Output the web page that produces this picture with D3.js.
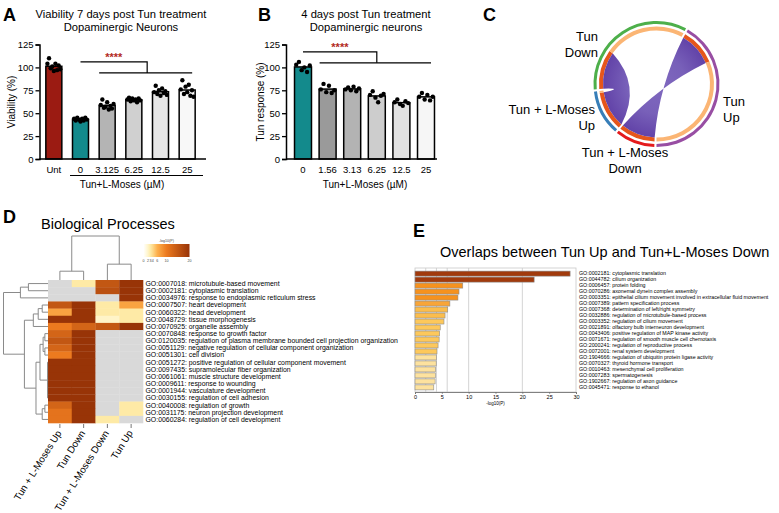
<!DOCTYPE html>
<html>
<head>
<meta charset="utf-8">
<script src="https://cdn.jsdelivr.net/npm/d3@7"></script>
<style>
  body { margin: 0; background: #fff; }
  svg { display: block; font-family: "Liberation Sans", Arial, Helvetica, sans-serif; }
</style>
</head>
<body>
<svg id="fig" width="779" height="513"></svg>
<script>
// ---- panel A: viability 7 days
var vCats = ["Unt", "0", "3.125", "6.25", "12.5", "25"];
var vColors = ["#9b1b12", "#138a8c", "#b4b4b4", "#d0d0d0", "#e6e6e6", "#f8f8f8"];
var vDots = [
  [104, 110, 99, 101, 96, 104, 97, 102, 98],
  [44, 42, 45, 43, 41, 44, 42, 45, 43],
  [59, 65, 56, 57, 62, 54, 58, 55, 60],
  [65, 67, 63, 66, 64, 65, 62, 66, 64],
  [73, 80, 71, 75, 69, 77, 72, 74, 70],
  [76, 86, 71, 79, 73, 81, 69, 75, 68]
];
// ---- panel B: Tun response 4 days
var tCats = ["0", "1.56", "3.13", "6.25", "12.5", "25"];
var tColors = ["#138a8c", "#9a9a9a", "#b3b3b3", "#cdcdcd", "#e2e2e2", "#f6f6f6"];
var tDots = [
  [103, 106, 97, 100, 95, 102],
  [76, 82, 73, 80, 72, 75],
  [76, 78, 75, 79, 74, 77],
  [70, 74, 67, 62, 69, 71],
  [62, 65, 60, 58, 63, 61],
  [68, 72, 65, 70, 64, 68]
];
var yTicks = [0, 25, 50, 75, 100, 125];

// ---- panel C: gene list overlaps
var setNames = ["Tun Up", "Tun + L-Moses Down", "Tun + L-Moses Up", "Tun Down"];
var setSizes = [150, 37, 42, 123];
var setShared = [37, 37, 40, 40];
var setColors = ["#984ea3", "#e41a1c", "#377eb8", "#4daf4a"];
var setLinks = [
  { source: 0, target: 1, twist: true },
  { source: 3, target: 2, twist: false }
];

// ---- panel D: heatmap of biological processes
var goTerms = [
  "GO:0007018: microtubule-based movement",
  "GO:0002181: cytoplasmic translation",
  "GO:0034976: response to endoplasmic reticulum stress",
  "GO:0007507: heart development",
  "GO:0060322: head development",
  "GO:0048729: tissue morphogenesis",
  "GO:0070925: organelle assembly",
  "GO:0070848: response to growth factor",
  "GO:0120035: regulation of plasma membrane bounded cell projection organization",
  "GO:0051129: negative regulation of cellular component organization",
  "GO:0051301: cell division",
  "GO:0051272: positive regulation of cellular component movement",
  "GO:0097435: supramolecular fiber organization",
  "GO:0061061: muscle structure development",
  "GO:0009611: response to wounding",
  "GO:0001944: vasculature development",
  "GO:0030155: regulation of cell adhesion",
  "GO:0040008: regulation of growth",
  "GO:0031175: neuron projection development",
  "GO:0060284: regulation of cell development"
];
var hmCols = ["Tun + L-Moses Up", "Tun Down", "Tun + L-Moses Down", "Tun Up"];
var hmVals = [
  [null, 3, 15, 20],
  [null, null, 16, 20],
  [null, null, null, 20],
  [15, 20, 3, 7],
  [7, 20, 3, 3],
  [20, 20, 2, 3],
  [10, 13, 15, 20],
  [13, 20, null, null],
  [15, 20, null, null],
  [13, 20, null, null],
  [10, 20, null, null],
  [20, 20, null, null],
  [20, 20, null, null],
  [20, 20, null, null],
  [20, 20, null, null],
  [20, 20, null, null],
  [20, 20, null, null],
  [13, 20, null, 3],
  [11, 20, null, 3],
  [11, 20, 3, null]
];
var legendTicks = [0, 2, 3, 4, 6, 10, 20];
var heatColors = ["#ffffff", "#fff4c8", "#feeaa6", "#fed98a", "#fdb04c", "#ec7a1f", "#983407"];
// dendrogram distances (h) for rows and columns
var rowTree = { h: 1.0, children: [
  { h: 0.62, children: [{ h: 0.44, children: [{ r: 0 }, { r: 1 }] }, { r: 2 }] },
  { h: 0.53, children: [
    { h: 0.33, children: [{ h: 0.22, children: [{ h: 0.13, children: [{ r: 3 }, { r: 4 }] }, { r: 5 }] }, { r: 6 }] },
    { h: 0.27, children: [
      { h: 0.18, children: [
        { h: 0.11, children: [{ h: 0.07, children: [{ r: 7 }, { r: 8 }] }, { h: 0.07, children: [{ r: 9 }, { r: 10 }] }] },
        { h: 0.01, children: [{ r: 11 }, { r: 12 }, { r: 13 }, { r: 14 }, { r: 15 }, { r: 16 }] }
      ] },
      { h: 0.13, children: [{ h: 0.07, children: [{ r: 17 }, { r: 18 }] }, { r: 19 }] }
    ] }
  ] }
] };
var colTree = { h: 1.0, children: [
  { h: 0.2, children: [{ r: 0 }, { r: 1 }] },
  { h: 0.36, children: [{ r: 2 }, { r: 3 }] }
] };

// ---- panel E: enrichment of overlap
var enrichTerms = [
  "GO:0002181: cytoplasmic translation",
  "GO:0044782: cilium organization",
  "GO:0006457: protein folding",
  "GO:0070286: axonemal dynein complex assembly",
  "GO:0003351: epithelial cilium movement involved in extracellular fluid movement",
  "GO:0007389: pattern specification process",
  "GO:0007368: determination of left/right symmetry",
  "GO:0032886: regulation of microtubule-based process",
  "GO:0003352: regulation of cilium movement",
  "GO:0021891: olfactory bulb interneuron development",
  "GO:0043406: positive regulation of MAP kinase activity",
  "GO:0071671: regulation of smooth muscle cell chemotaxis",
  "GO:2000241: regulation of reproductive process",
  "GO:0072001: renal system development",
  "GO:1904666: regulation of ubiquitin protein ligase activity",
  "GO:0070327: thyroid hormone transport",
  "GO:0010463: mesenchymal cell proliferation",
  "GO:0007283: spermatogenesis",
  "GO:1902667: regulation of axon guidance",
  "GO:0045471: response to ethanol"
];
var enrichVals = [28.9, 22.2, 8.9, 8.2, 8.0, 6.5, 6.1, 5.6, 5.4, 4.7, 4.6, 4.5, 4.3, 4.1, 4.0, 3.95, 3.85, 3.8, 3.75, 3.5];
var enrichTicks = [0, 5, 10, 15, 20, 25, 30];
var enrichGrid = [2, 4, 6, 10, 20];

var svg = d3.select("#fig");
svg.append("rect").attr("width", 779).attr("height", 513).attr("fill", "#fff");
var defs = svg.append("defs");

function panelLetter(t, x, y) {
  svg.append("text").attr("x", x).attr("y", y).attr("font-size", 18).attr("font-weight", "bold").text(t);
}

// ---------- bar panels A and B
function drawBars(o) {
  var x = d3.scaleBand().domain(o.cats).range(o.xr).paddingInner(o.pad).paddingOuter(o.pad / 2);
  var y = d3.scaleLinear().domain([0, 125]).range([159, 44.5]);
  var g = svg.append("g");
  var bw = x.bandwidth();

  g.selectAll("rect.bar").data(o.cats).enter().append("rect")
    .attr("x", function (d) { return x(d); })
    .attr("y", function (d, i) { return y(d3.mean(o.dots[i])); })
    .attr("width", bw)
    .attr("height", function (d, i) { return y(0) - y(d3.mean(o.dots[i])); })
    .attr("fill", function (d, i) { return o.colors[i]; })
    .attr("stroke", "#000").attr("stroke-width", 1.5);

  o.dots.forEach(function (vals, i) {
    var n = vals.length;
    g.selectAll(null).data(vals).enter().append("circle")
      .attr("cx", function (v, j) { return x(o.cats[i]) + bw / 2 + (j / (n - 1) - 0.5) * bw * 0.8; })
      .attr("cy", function (v) { return y(v); })
      .attr("r", 2.2).attr("fill", "#000");
  });

  var ax = g.append("g").attr("transform", "translate(" + o.axX + ",0)")
    .call(d3.axisLeft(y).tickValues(yTicks).tickSize(4).tickPadding(2));
  ax.select(".domain").attr("stroke-width", 1.5);
  ax.selectAll(".tick line").attr("stroke-width", 1.3);
  ax.selectAll("text").attr("font-size", 9.5).attr("font-family", "inherit").attr("fill", "#000");

  // baseline
  g.append("line").attr("x1", o.axX).attr("x2", o.xEnd).attr("y1", y(0)).attr("y2", y(0))
    .attr("stroke", "#000").attr("stroke-width", 1.5);

  g.selectAll("text.cat").data(o.cats).enter().append("text")
    .attr("x", function (d) { return x(d) + bw / 2; }).attr("y", 172.5)
    .attr("text-anchor", "middle").attr("font-size", 9.5).text(function (d) { return d; });

  g.append("text").attr("x", o.labX).attr("y", 187.5).attr("text-anchor", "middle")
    .attr("font-size", 10).text("Tun+L-Moses (\u00b5M)");

  g.append("text").attr("transform", "translate(" + o.yLabX + ",102) rotate(-90)")
    .attr("text-anchor", "middle").attr("font-size", 10).text(o.yLabel);

  o.title.forEach(function (t, k) {
    g.append("text").attr("x", o.titleX).attr("y", 18 + k * 12.5).attr("text-anchor", "middle")
      .attr("font-size", 11.2).text(t);
  });

  // significance bracket
  var c0 = x(o.cats[o.refIdx]) + bw / 2;
  var cA = x(o.cats[o.refIdx + 1]) + bw / 2, cB = x(o.cats[o.cats.length - 1]) + bw / 2;
  var mid = (cA + cB) / 2;
  var yU = y(o.sigU), yL = y(o.sigL);
  g.append("path").attr("d", "M" + c0 + "," + yU + "H" + mid + "V" + yL)
    .attr("fill", "none").attr("stroke", "#000").attr("stroke-width", 1.2);
  g.append("line").attr("x1", cA - 8).attr("x2", cB + 5).attr("y1", yL).attr("y2", yL)
    .attr("stroke", "#000").attr("stroke-width", 1.2);
  g.append("text").attr("x", (c0 + mid) / 2).attr("y", yU - 0.5).attr("text-anchor", "middle")
    .attr("font-size", 11).attr("font-weight", "bold").attr("fill", "#b22a1e").text("****");

  if (o.underline) {
    g.append("line").attr("x1", x(o.cats[1]) - 2.5).attr("x2", o.xEnd - 3).attr("y1", 175.5).attr("y2", 175.5)
      .attr("stroke", "#000").attr("stroke-width", 1);
  }
}

panelLetter("A", 3, 21);
drawBars({
  cats: vCats, colors: vColors, dots: vDots, xr: [40.5, 200.5], pad: 0.4, axX: 39.5, xEnd: 206,
  labX: 122, yLabX: 15, yLabel: "Viability (%)", titleX: 121,
  title: ["Viability 7 days post Tun treatment", "Dopaminergic Neurons"],
  refIdx: 1, sigU: 106, sigL: 94, underline: true
});

panelLetter("B", 258, 21);
drawBars({
  cats: tCats, colors: tColors, dots: tDots, xr: [290.7, 438.3], pad: 0.31, axX: 286, xEnd: 437,
  labX: 365, yLabX: 264, yLabel: "Tun response (%)", titleX: 366,
  title: ["4 days post Tun treatment", "Dopaminergic neurons"],
  refIdx: 0, sigU: 117, sigL: 105, underline: false
});

// ---------- panel C chord / circos
panelLetter("C", 483, 21);
(function () {
  var cx = 656.5, cy = 84;
  var gapDeg = 2, startDeg = 30;
  var total = d3.sum(setSizes);
  var ang = d3.scaleLinear().domain([0, total]).range([0, 360 - gapDeg * setSizes.length]);
  var rad = function (d) { return d * Math.PI / 180; };
  var g = svg.append("g").attr("transform", "translate(" + cx + "," + cy + ")");
  var groups = [];
  var cum = 0;
  setSizes.forEach(function (s, i) {
    var a0 = startDeg + ang(cum) + i * gapDeg;
    groups.push({ a0: a0, a1: a0 + ang(s), sh: a0 + ang(setShared[i]) });
    cum += s;
  });
  var outer = d3.arc().innerRadius(60).outerRadius(63);
  var inner = d3.arc().innerRadius(53.5).outerRadius(57.5);
  groups.forEach(function (gr, i) {
    g.append("path").attr("d", outer({ startAngle: rad(gr.a0), endAngle: rad(gr.a1) })).attr("fill", setColors[i]);
    g.append("path").attr("d", inner({ startAngle: rad(gr.a0), endAngle: rad(gr.sh) })).attr("fill", "#e5561b");
    if (gr.a1 > gr.sh + 0.01)
      g.append("path").attr("d", inner({ startAngle: rad(gr.sh), endAngle: rad(gr.a1) })).attr("fill", "#fbb574");
  });

  var rg = defs.append("radialGradient").attr("id", "ribgrad").attr("gradientUnits", "userSpaceOnUse")
    .attr("cx", 0).attr("cy", 0).attr("r", 53.5);
  rg.append("stop").attr("offset", "0%").attr("stop-color", "#8069bf");
  rg.append("stop").attr("offset", "55%").attr("stop-color", "#7860b9");
  rg.append("stop").attr("offset", "100%").attr("stop-color", "#6243a8");

  var r = 53.5;
  function pt(a, rr) { var t = rad(a) - Math.PI / 2; return [rr * Math.cos(t), rr * Math.sin(t)]; }
  function curveTo(p, a, b) {
    var diff = ((b - a) % 360 + 540) % 360 - 180;
    var c = pt(a + diff / 2, r * 0.62 * Math.pow(1 - Math.abs(diff) / 180, 1.3));
    var e = pt(b, r);
    p.quadraticCurveTo(c[0], c[1], e[0], e[1]);
  }
  setLinks.forEach(function (l) {
    var s = groups[l.source], t = groups[l.target];
    var s0 = s.a0, s1 = s.sh;
    var t0 = l.twist ? t.sh : t.a0, t1 = l.twist ? t.a0 : t.sh;
    var p = d3.path();
    var p0 = pt(s0, r);
    p.moveTo(p0[0], p0[1]);
    p.arc(0, 0, r, rad(s0) - Math.PI / 2, rad(s1) - Math.PI / 2, false);
    curveTo(p, s1, t0);
    p.arc(0, 0, r, rad(t0) - Math.PI / 2, rad(t1) - Math.PI / 2, l.twist);
    curveTo(p, t1, s0);
    p.closePath();
    g.append("path").attr("d", p.toString()).attr("fill", "url(#ribgrad)");
  });

  var lab = [
    { lines: ["Tun", "Down"], x: 598, y: 41, anchor: "end" },
    { lines: ["Tun + L-Moses", "Up"], x: 595, y: 114, anchor: "end" },
    { lines: ["Tun + L-Moses", "Down"], x: 625, y: 157, anchor: "middle" },
    { lines: ["Tun", "Up"], x: 723, y: 106, anchor: "start" }
  ];
  lab.forEach(function (l) {
    l.lines.forEach(function (t, k) {
      svg.append("text").attr("x", l.x).attr("y", l.y + k * 15.5).attr("text-anchor", l.anchor)
        .attr("font-size", 13).text(t);
    });
  });
})();

// ---------- panel D heatmap
panelLetter("D", 3, 223);
svg.append("text").attr("x", 41).attr("y", 228.5).attr("font-size", 14.5).text("Biological Processes");
(function () {
  var xH = d3.scaleBand().domain(hmCols).range([48, 143]);
  var yH = d3.scaleBand().domain(goTerms).range([280, 423]);
  var color = d3.scaleLinear().domain(legendTicks).range(heatColors).clamp(true);
  var g = svg.append("g");
  hmVals.forEach(function (row, i) {
    g.selectAll(null).data(row).enter().append("rect")
      .attr("x", function (v, j) { return xH(hmCols[j]); })
      .attr("y", yH(goTerms[i]))
      .attr("width", xH.bandwidth() + 0.3).attr("height", yH.bandwidth() + 0.3)
      .attr("fill", function (v) { return v == null ? "#d9d9d9" : color(v); });
  });
  g.selectAll("text.go").data(goTerms).enter().append("text")
    .attr("x", 145.5).attr("y", function (d) { return yH(d) + yH.bandwidth() / 2 + 2.4; })
    .attr("font-size", 6.9).text(function (d) { return d; });

  // column ticks + rotated labels
  hmCols.forEach(function (c) {
    var xc = xH(c) + xH.bandwidth() / 2;
    g.append("line").attr("x1", xc).attr("x2", xc).attr("y1", 424).attr("y2", 428).attr("stroke", "#555").attr("stroke-width", 0.8);
    g.append("text").attr("transform", "translate(" + (xc + 2) + ",433) rotate(-58)")
      .attr("text-anchor", "end").attr("font-size", 9.8).text(c);
  });

  // dendrograms
  function drawTree(tree, pos, depth, horizontal) {
    var root = d3.hierarchy(tree);
    root.eachAfter(function (n) {
      n.p = n.children ? d3.mean(n.children, function (c) { return c.p; }) : pos(n.data.r);
      n.d = depth(n.data.h || 0);
    });
    root.each(function (n) {
      if (!n.children) return;
      var ext = d3.extent(n.children, function (c) { return c.p; });
      var path = horizontal
        ? "M" + n.d + "," + ext[0] + "V" + ext[1]
        : "M" + ext[0] + "," + n.d + "H" + ext[1];
      n.children.forEach(function (c) {
        path += horizontal ? "M" + n.d + "," + c.p + "H" + c.d : "M" + c.p + "," + n.d + "V" + c.d;
      });
      g.append("path").attr("d", path).attr("stroke", "#8a8a8a").attr("stroke-width", 1).attr("fill", "none");
    });
  }
  drawTree(rowTree, function (r) { return yH(goTerms[r]) + yH.bandwidth() / 2; },
    d3.scaleLinear().domain([0, 1]).range([48, 3.5]), true);
  drawTree(colTree, function (r) { return xH(hmCols[r]) + xH.bandwidth() / 2; },
    d3.scaleLinear().domain([0, 1]).range([280, 236]), false);

  // legend
  var lx = d3.scaleLinear().domain([0, 20]).range([143.5, 189.5]);
  var grad = defs.append("linearGradient").attr("id", "hmgrad");
  legendTicks.forEach(function (t, i) {
    grad.append("stop").attr("offset", (t / 20 * 100) + "%").attr("stop-color", heatColors[i]);
  });
  g.append("rect").attr("x", lx(0)).attr("y", 244).attr("width", lx(20) - lx(0)).attr("height", 13)
    .attr("fill", "url(#hmgrad)");
  g.selectAll("text.lt").data(legendTicks).enter().append("text")
    .attr("x", function (d) { return lx(d); }).attr("y", 262).attr("text-anchor", "middle")
    .attr("font-size", 3.6).attr("fill", "#444").text(function (d) { return d; });
  g.append("text").attr("x", lx(10)).attr("y", 242).attr("text-anchor", "middle")
    .attr("font-size", 3.6).attr("fill", "#444").text("-log10(P)");
})();

// ---------- panel E enrichment bars
panelLetter("E", 413, 237);
svg.append("text").attr("x", 440).attr("y", 256.5).attr("font-size", 14.5).text("Overlaps between Tun Up and Tun+L-Moses Down");
(function () {
  var x = d3.scaleLinear().domain([0, 30]).range([415, 576]);
  var y = d3.scaleBand().domain(enrichTerms).range([270.5, 390.5]).paddingInner(0.16).paddingOuter(0.1);
  var col = d3.scaleThreshold().domain([4.05, 5.5, 6.3, 7, 15])
    .range(["#fde29e", "#fdc85b", "#fbbd4c", "#f8a538", "#f6921e", "#a13a0c"]);
  var g = svg.append("g");
  g.append("rect").attr("x", x(0)).attr("y", 268).attr("width", x(30) - x(0)).attr("height", 124)
    .attr("fill", "none").attr("stroke", "#c8c8c8").attr("stroke-width", 0.8);
  g.selectAll("line.grid").data(enrichGrid).enter().append("line")
    .attr("x1", function (d) { return x(d); }).attr("x2", function (d) { return x(d); })
    .attr("y1", 268).attr("y2", 392).attr("stroke", "#c8c8c8").attr("stroke-width", 0.8);
  g.selectAll("rect.bar").data(enrichVals).enter().append("rect")
    .attr("x", x(0)).attr("y", function (d, i) { return y(enrichTerms[i]); })
    .attr("width", function (d) { return x(d) - x(0); }).attr("height", y.bandwidth())
    .attr("fill", function (d) { return col(d); }).attr("stroke", "#8d8d8d").attr("stroke-width", 0.6);
  g.selectAll("text.term").data(enrichTerms).enter().append("text")
    .attr("x", 579).attr("y", function (d) { return y(d) + y.bandwidth() / 2 + 1.8; })
    .attr("font-size", 5.3).text(function (d) { return d; });
  var ax = g.append("g").attr("transform", "translate(0,392)")
    .call(d3.axisBottom(x).tickValues(enrichTicks).tickSize(2).tickPadding(1.5));
  ax.select(".domain").attr("stroke", "#666").attr("stroke-width", 0.8);
  ax.selectAll(".tick line").attr("stroke", "#666").attr("stroke-width", 0.6);
  ax.selectAll("text").attr("font-size", 5.5).attr("font-family", "inherit").attr("fill", "#000");
  g.append("text").attr("x", (x(0) + x(30)) / 2).attr("y", 405).attr("text-anchor", "middle")
    .attr("font-size", 4.5).text("-log10(P)");
})();
</script>
</body>
</html>
